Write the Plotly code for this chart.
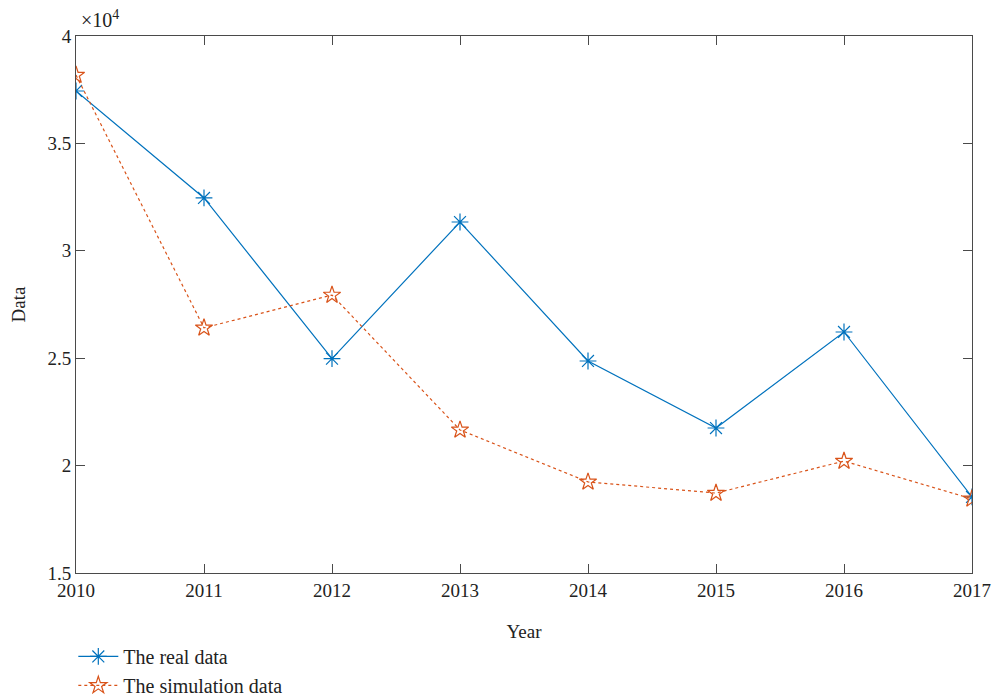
import plotly.graph_objects as go

years = [2010, 2011, 2012, 2013, 2014, 2015, 2016, 2017]
real_data = [37440, 32460, 24980, 31340, 24870, 21750, 26220, 18540]
sim_data = [38180, 26410, 27940, 21660, 19240, 18720, 20210, 18450]
y_tickvals = [15000, 20000, 25000, 30000, 35000, 40000]
y_ticktext = ["1.5", "2", "2.5", "3", "3.5", "4"]

font_family = "Liberation Serif"

fig = go.Figure()
fig.add_trace(go.Scatter(
    x=years, y=real_data, mode="lines+markers", name="The real data",
    line=dict(color="#0072BD", width=1.2),
    marker=dict(symbol="asterisk-open", size=14, color="#0072BD",
                line=dict(color="#0072BD", width=1.2)),
))
fig.add_trace(go.Scatter(
    x=years, y=sim_data, mode="lines+markers", name="The simulation data",
    line=dict(color="#D95319", width=1.2, dash="dot"),
    marker=dict(symbol="star-open", size=13, color="#D95319",
                line=dict(color="#D95319", width=1.2)),
))

axis_common = dict(
    showgrid=False, zeroline=False, showline=True, linecolor="#4a4a4a",
    linewidth=1, mirror="ticks", ticks="inside", ticklen=9, tickcolor="#4a4a4a",
    tickfont=dict(family=font_family, size=19, color="#222"), automargin=False,
)
fig.update_xaxes(range=[2010, 2017], tickvals=years, ticklabeloverflow="allow", **axis_common,
                 title=dict(text="Year", font=dict(family=font_family, size=19, color="#222"),
                            standoff=24))
fig.update_yaxes(range=[15000, 40000], tickvals=y_tickvals, ticktext=y_ticktext,
                 **axis_common,
                 title=dict(text="Data", font=dict(family=font_family, size=19, color="#222"),
                            standoff=16))

fig.add_annotation(x=0, y=1, xref="paper", yref="paper", xanchor="left", yanchor="bottom",
                   text="×10<sup>4</sup>", showarrow=False, xshift=3, yshift=3,
                   font=dict(family=font_family, size=20, color="#222"))

fig.update_layout(
    width=998, height=699,
    margin=dict(l=76, r=26, t=36, b=126, autoexpand=False),
    plot_bgcolor="white", paper_bgcolor="white",
    font=dict(family=font_family, size=19, color="#222"),
    showlegend=True,
    legend=dict(x=-0.003, y=-0.119, xanchor="left", yanchor="top",
                bgcolor="rgba(0,0,0,0)", font=dict(family=font_family, size=20, color="#222"),
                tracegroupgap=0, itemwidth=40),
)

fig.write_html("out.html", config={"displayModeBar": False},
               post_script="document.body.style.margin='0';document.body.style.overflow='hidden';")
